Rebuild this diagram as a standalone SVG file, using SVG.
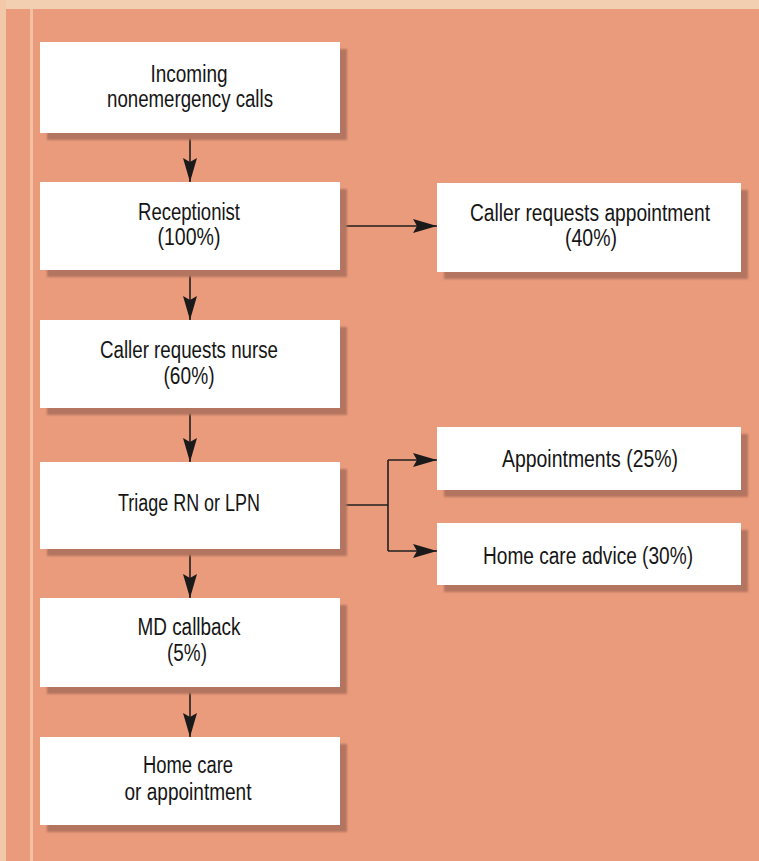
<svg xmlns="http://www.w3.org/2000/svg" width="759" height="861" viewBox="0 0 759 861">
<defs>
<style>
.box{fill:#ffffff}
.shadow{fill:#b47560;filter:url(#blur)}
.lbl{font-family:"Liberation Sans",Arial,sans-serif;font-size:23px;fill:#151515;text-anchor:middle}
.conn{stroke:#1f1f1f;stroke-width:1.6;fill:none}
</style>
<filter id="blur" x="-5%" y="-5%" width="110%" height="110%"><feGaussianBlur stdDeviation="1.2"/></filter>
<marker id="ah" viewBox="0 0 24 14" refX="24" refY="7" markerWidth="24" markerHeight="14" markerUnits="userSpaceOnUse" orient="auto">
<path d="M0,0 L24,7 L0,14 L4,7 Z" fill="#1a1a1a"/>
</marker>
</defs>
<rect x="0" y="0" width="759" height="861" fill="#ea9b7b"/>
<rect x="0" y="0" width="759" height="9" fill="#f3cfb1"/>
<rect x="0" y="0" width="6" height="861" fill="#f1c8a8"/>
<rect x="30" y="9" width="3" height="852" fill="#f2c1a3"/>

<g id="connectors">
<line class="conn" x1="190" y1="133" x2="190" y2="182" marker-end="url(#ah)"/>
<line class="conn" x1="190" y1="270" x2="190" y2="320" marker-end="url(#ah)"/>
<line class="conn" x1="190" y1="408" x2="190" y2="462" marker-end="url(#ah)"/>
<line class="conn" x1="190" y1="549" x2="190" y2="598" marker-end="url(#ah)"/>
<line class="conn" x1="190" y1="687" x2="190" y2="737" marker-end="url(#ah)"/>
<line class="conn" x1="340" y1="226" x2="437" y2="226" marker-end="url(#ah)"/>
<line class="conn" x1="340" y1="505" x2="388" y2="505"/>
<line class="conn" x1="388" y1="460" x2="388" y2="551"/>
<line class="conn" x1="388" y1="460" x2="437" y2="460" marker-end="url(#ah)"/>
<line class="conn" x1="388" y1="551" x2="437" y2="551" marker-end="url(#ah)"/>
</g>

<g id="incoming">
<rect class="shadow" x="47" y="49" width="300" height="91"/>
<rect class="box" x="40" y="42" width="300" height="91"/>
<text class="lbl" x="189" y="82" textLength="77" lengthAdjust="spacingAndGlyphs">Incoming</text>
<text class="lbl" x="190" y="107" textLength="166" lengthAdjust="spacingAndGlyphs">nonemergency calls</text>
</g>

<g id="receptionist">
<rect class="shadow" x="47" y="189" width="300" height="88"/>
<rect class="box" x="40" y="182" width="300" height="88"/>
<text class="lbl" x="189" y="220" textLength="102" lengthAdjust="spacingAndGlyphs">Receptionist</text>
<text class="lbl" x="189" y="245" textLength="63" lengthAdjust="spacingAndGlyphs">(100%)</text>
</g>

<g id="caller-appointment">
<rect class="shadow" x="444" y="190" width="304" height="89"/>
<rect class="box" x="437" y="183" width="304" height="89"/>
<text class="lbl" x="590" y="221" textLength="240" lengthAdjust="spacingAndGlyphs">Caller requests appointment</text>
<text class="lbl" x="591" y="246" textLength="52" lengthAdjust="spacingAndGlyphs">(40%)</text>
</g>

<g id="caller-nurse">
<rect class="shadow" x="47" y="327" width="300" height="88"/>
<rect class="box" x="40" y="320" width="300" height="88"/>
<text class="lbl" x="189" y="358" textLength="178" lengthAdjust="spacingAndGlyphs">Caller requests nurse</text>
<text class="lbl" x="189" y="384" textLength="51" lengthAdjust="spacingAndGlyphs">(60%)</text>
</g>

<g id="triage">
<rect class="shadow" x="47" y="469" width="300" height="87"/>
<rect class="box" x="40" y="462" width="300" height="87"/>
<text class="lbl" x="189" y="511" textLength="142" lengthAdjust="spacingAndGlyphs">Triage RN or LPN</text>
</g>

<g id="appointments">
<rect class="shadow" x="444" y="434" width="304" height="63"/>
<rect class="box" x="437" y="427" width="304" height="63"/>
<text class="lbl" x="590" y="467" textLength="176" lengthAdjust="spacingAndGlyphs">Appointments (25%)</text>
</g>

<g id="home-care-advice">
<rect class="shadow" x="444" y="530" width="304" height="62"/>
<rect class="box" x="437" y="523" width="304" height="62"/>
<text class="lbl" x="588" y="564" textLength="210" lengthAdjust="spacingAndGlyphs">Home care advice (30%)</text>
</g>

<g id="md-callback">
<rect class="shadow" x="47" y="605" width="300" height="89"/>
<rect class="box" x="40" y="598" width="300" height="89"/>
<text class="lbl" x="189" y="635" textLength="103" lengthAdjust="spacingAndGlyphs">MD callback</text>
<text class="lbl" x="187" y="661" textLength="40" lengthAdjust="spacingAndGlyphs">(5%)</text>
</g>

<g id="home-care-appointment">
<rect class="shadow" x="47" y="744" width="300" height="88"/>
<rect class="box" x="40" y="737" width="300" height="88"/>
<text class="lbl" x="188" y="773" textLength="90" lengthAdjust="spacingAndGlyphs">Home care</text>
<text class="lbl" x="188" y="800" textLength="127" lengthAdjust="spacingAndGlyphs">or appointment</text>
</g>
</svg>
